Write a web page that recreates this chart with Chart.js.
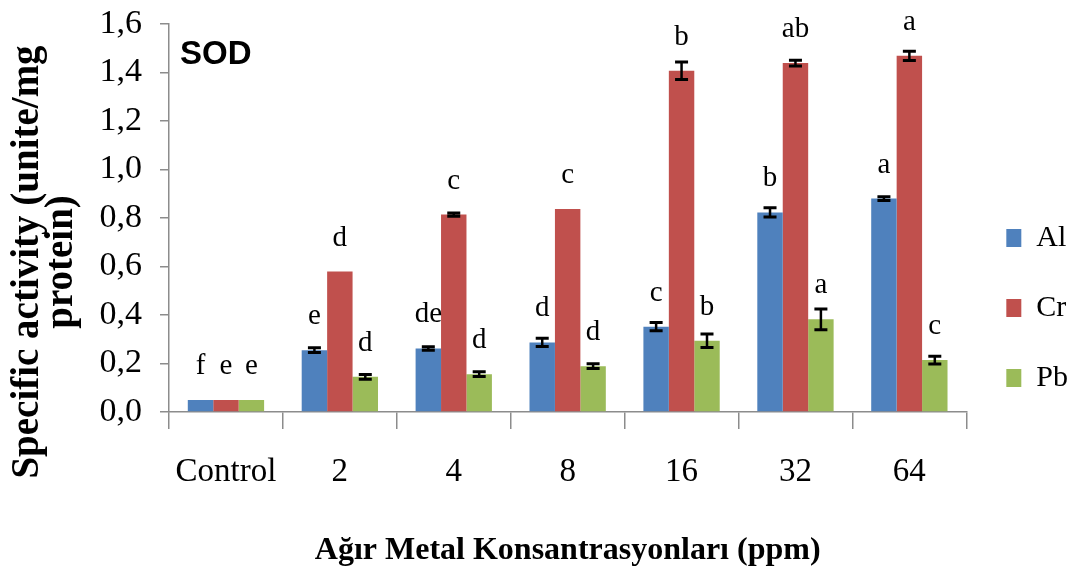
<!DOCTYPE html>
<html>
<head>
<meta charset="utf-8">
<script src="https://cdn.jsdelivr.net/npm/chart.js@4/dist/chart.umd.min.js"></script>
<style>
  html, body { margin: 0; padding: 0; background: #fff; }
  #wrap { width: 1078px; height: 574px; position: relative; }
</style>
</head>
<body>
<div id="wrap"><canvas id="c"></canvas></div>
<script>
const categories = ['Control', '2', '4', '8', '16', '32', '64'];
const seriesNames = ['Al', 'Cr', 'Pb'];
const alValues = [0.05, 0.255, 0.262, 0.287, 0.352, 0.823, 0.880];
const crValues = [0.05, 0.579, 0.814, 0.837, 1.407, 1.439, 1.469];
const pbValues = [0.05, 0.145, 0.156, 0.189, 0.294, 0.382, 0.214];
const alErrors = [0, 0.010, 0.007, 0.017, 0.017, 0.019, 0.008];
const crErrors = [0, 0, 0.007, 0, 0.036, 0.012, 0.019];
const pbErrors = [0, 0.010, 0.010, 0.010, 0.028, 0.043, 0.016];
const alLetters = ['f', 'e', 'de', 'd', 'c', 'b', 'a'];
const crLetters = ['e', 'd', 'c', 'c', 'b', 'ab', 'a'];
const pbLetters = ['e', 'd', 'd', 'd', 'b', 'a', 'c'];
const yTickLabels = ['0,0', '0,2', '0,4', '0,6', '0,8', '1,0', '1,2', '1,4', '1,6'];
const panelLabel = 'SOD';
const yTitle = ['Specific activity (unite/mg', 'protein)'];
const xTitle = 'Ağır Metal Konsantrasyonları (ppm)';

const colors = ['#4F81BD', '#C0504D', '#9BBB59'];
const errorSets = [alErrors, crErrors, pbErrors];
const letterSets = [alLetters, crLetters, pbLetters];

const serif = '"Liberation Serif", "Times New Roman", serif';
const axisGray = '#8c8c8c';

const annotate = {
  id: 'annotate',
  afterDatasetsDraw(chart) {
    const ctx = chart.ctx;
    const yScale = chart.scales.y;
    ctx.save();
    // error bars
    chart.data.datasets.forEach((ds, i) => {
      const meta = chart.getDatasetMeta(i);
      const errs = errorSets[i];
      meta.data.forEach((el, j) => {
        const e = errs[j];
        if (!e) return;
        const v = ds.data[j];
        const yt = yScale.getPixelForValue(v + e);
        const yb = yScale.getPixelForValue(v - e);
        ctx.strokeStyle = '#000';
        ctx.lineWidth = 2.5;
        ctx.beginPath();
        ctx.moveTo(el.x, yt); ctx.lineTo(el.x, yb);
        ctx.stroke();
        ctx.lineWidth = 3;
        ctx.beginPath();
        ctx.moveTo(el.x - 6.5, yt); ctx.lineTo(el.x + 6.5, yt);
        ctx.moveTo(el.x - 6.5, yb); ctx.lineTo(el.x + 6.5, yb);
        ctx.stroke();
      });
    });
    // letters
    ctx.fillStyle = '#000';
    ctx.font = '29px ' + serif;
    ctx.textAlign = 'center';
    ctx.textBaseline = 'alphabetic';
    chart.data.datasets.forEach((ds, i) => {
      const meta = chart.getDatasetMeta(i);
      const letters = letterSets[i];
      meta.data.forEach((el, j) => {
        ctx.fillText(letters[j], el.x, el.y - 26);
      });
    });
    // panel label
    ctx.font = 'bold 33px "Liberation Sans", Arial, sans-serif';
    ctx.textAlign = 'left';
    ctx.fillText(panelLabel, chart.chartArea.left + 11, chart.chartArea.top + 40);
    ctx.restore();
  },
  afterDraw(chart) {
    // y axis title (two centred lines, rotated)
    const ctx = chart.ctx;
    ctx.save();
    ctx.fillStyle = '#000';
    ctx.font = 'bold 39px ' + serif;
    ctx.textAlign = 'center';
    ctx.textBaseline = 'middle';
    ctx.translate(0, 262);
    ctx.rotate(-Math.PI / 2);
    ctx.fillText(yTitle[0], 0, 28);
    ctx.fillText(yTitle[1], 0, 62);
    ctx.restore();
  }
};

Chart.defaults.color = '#000';

new Chart(document.getElementById('c'), {
  type: 'bar',
  data: {
    labels: categories,
    datasets: [
      { label: seriesNames[0], data: alValues, backgroundColor: colors[0] },
      { label: seriesNames[1], data: crValues, backgroundColor: colors[1] },
      { label: seriesNames[2], data: pbValues, backgroundColor: colors[2] }
    ]
  },
  options: {
    responsive: true,
    maintainAspectRatio: false,
    animation: false,
    devicePixelRatio: 1,
    layout: { padding: { top: 24, right: 0, bottom: 0, left: 0 } },
    datasets: { bar: { categoryPercentage: 0.67, barPercentage: 1.0, borderWidth: 0 } },
    plugins: {
      tooltip: { enabled: false },
      legend: {
        position: 'right',
        align: 'center',
        title: { display: true, text: '', font: { size: 10 }, padding: { top: 6, bottom: 0 } },
        labels: {
          font: { family: serif, size: 30 },
          color: '#000',
          boxWidth: 15,
          boxHeight: 18,
          padding: 40
        }
      }
    },
    scales: {
      x: {
        afterFit(scale) { scale.height = 162; },
        grid: {
          display: true,
          offset: true,
          drawOnChartArea: false,
          drawTicks: true,
          tickLength: 17,
          color: axisGray,
          lineWidth: 1.5
        },
        border: { display: true, color: axisGray, width: 1.5 },
        ticks: { font: { family: serif, size: 33 }, color: '#000', padding: 24, maxRotation: 0 },
        title: {
          display: true,
          text: xTitle,
          font: { family: serif, size: 32, weight: 'bold' },
          color: '#000',
          padding: { top: 0, bottom: 4 }
        }
      },
      y: {
        min: 0,
        max: 1.6,
        afterFit(scale) { scale.width = 169; scale.paddingTop = 0; scale.paddingBottom = 0; },
        grid: {
          display: true,
          drawOnChartArea: false,
          drawTicks: true,
          tickLength: 9,
          color: axisGray,
          lineWidth: 1.5
        },
        border: { display: true, color: axisGray, width: 1.5 },
        ticks: {
          stepSize: 0.2,
          font: { family: serif, size: 34 },
          color: '#000',
          padding: 18,
          callback: (v, i) => yTickLabels[i]
        },
        title: { display: false }
      }
    }
  },
  plugins: [annotate]
});
</script>
</body>
</html>
